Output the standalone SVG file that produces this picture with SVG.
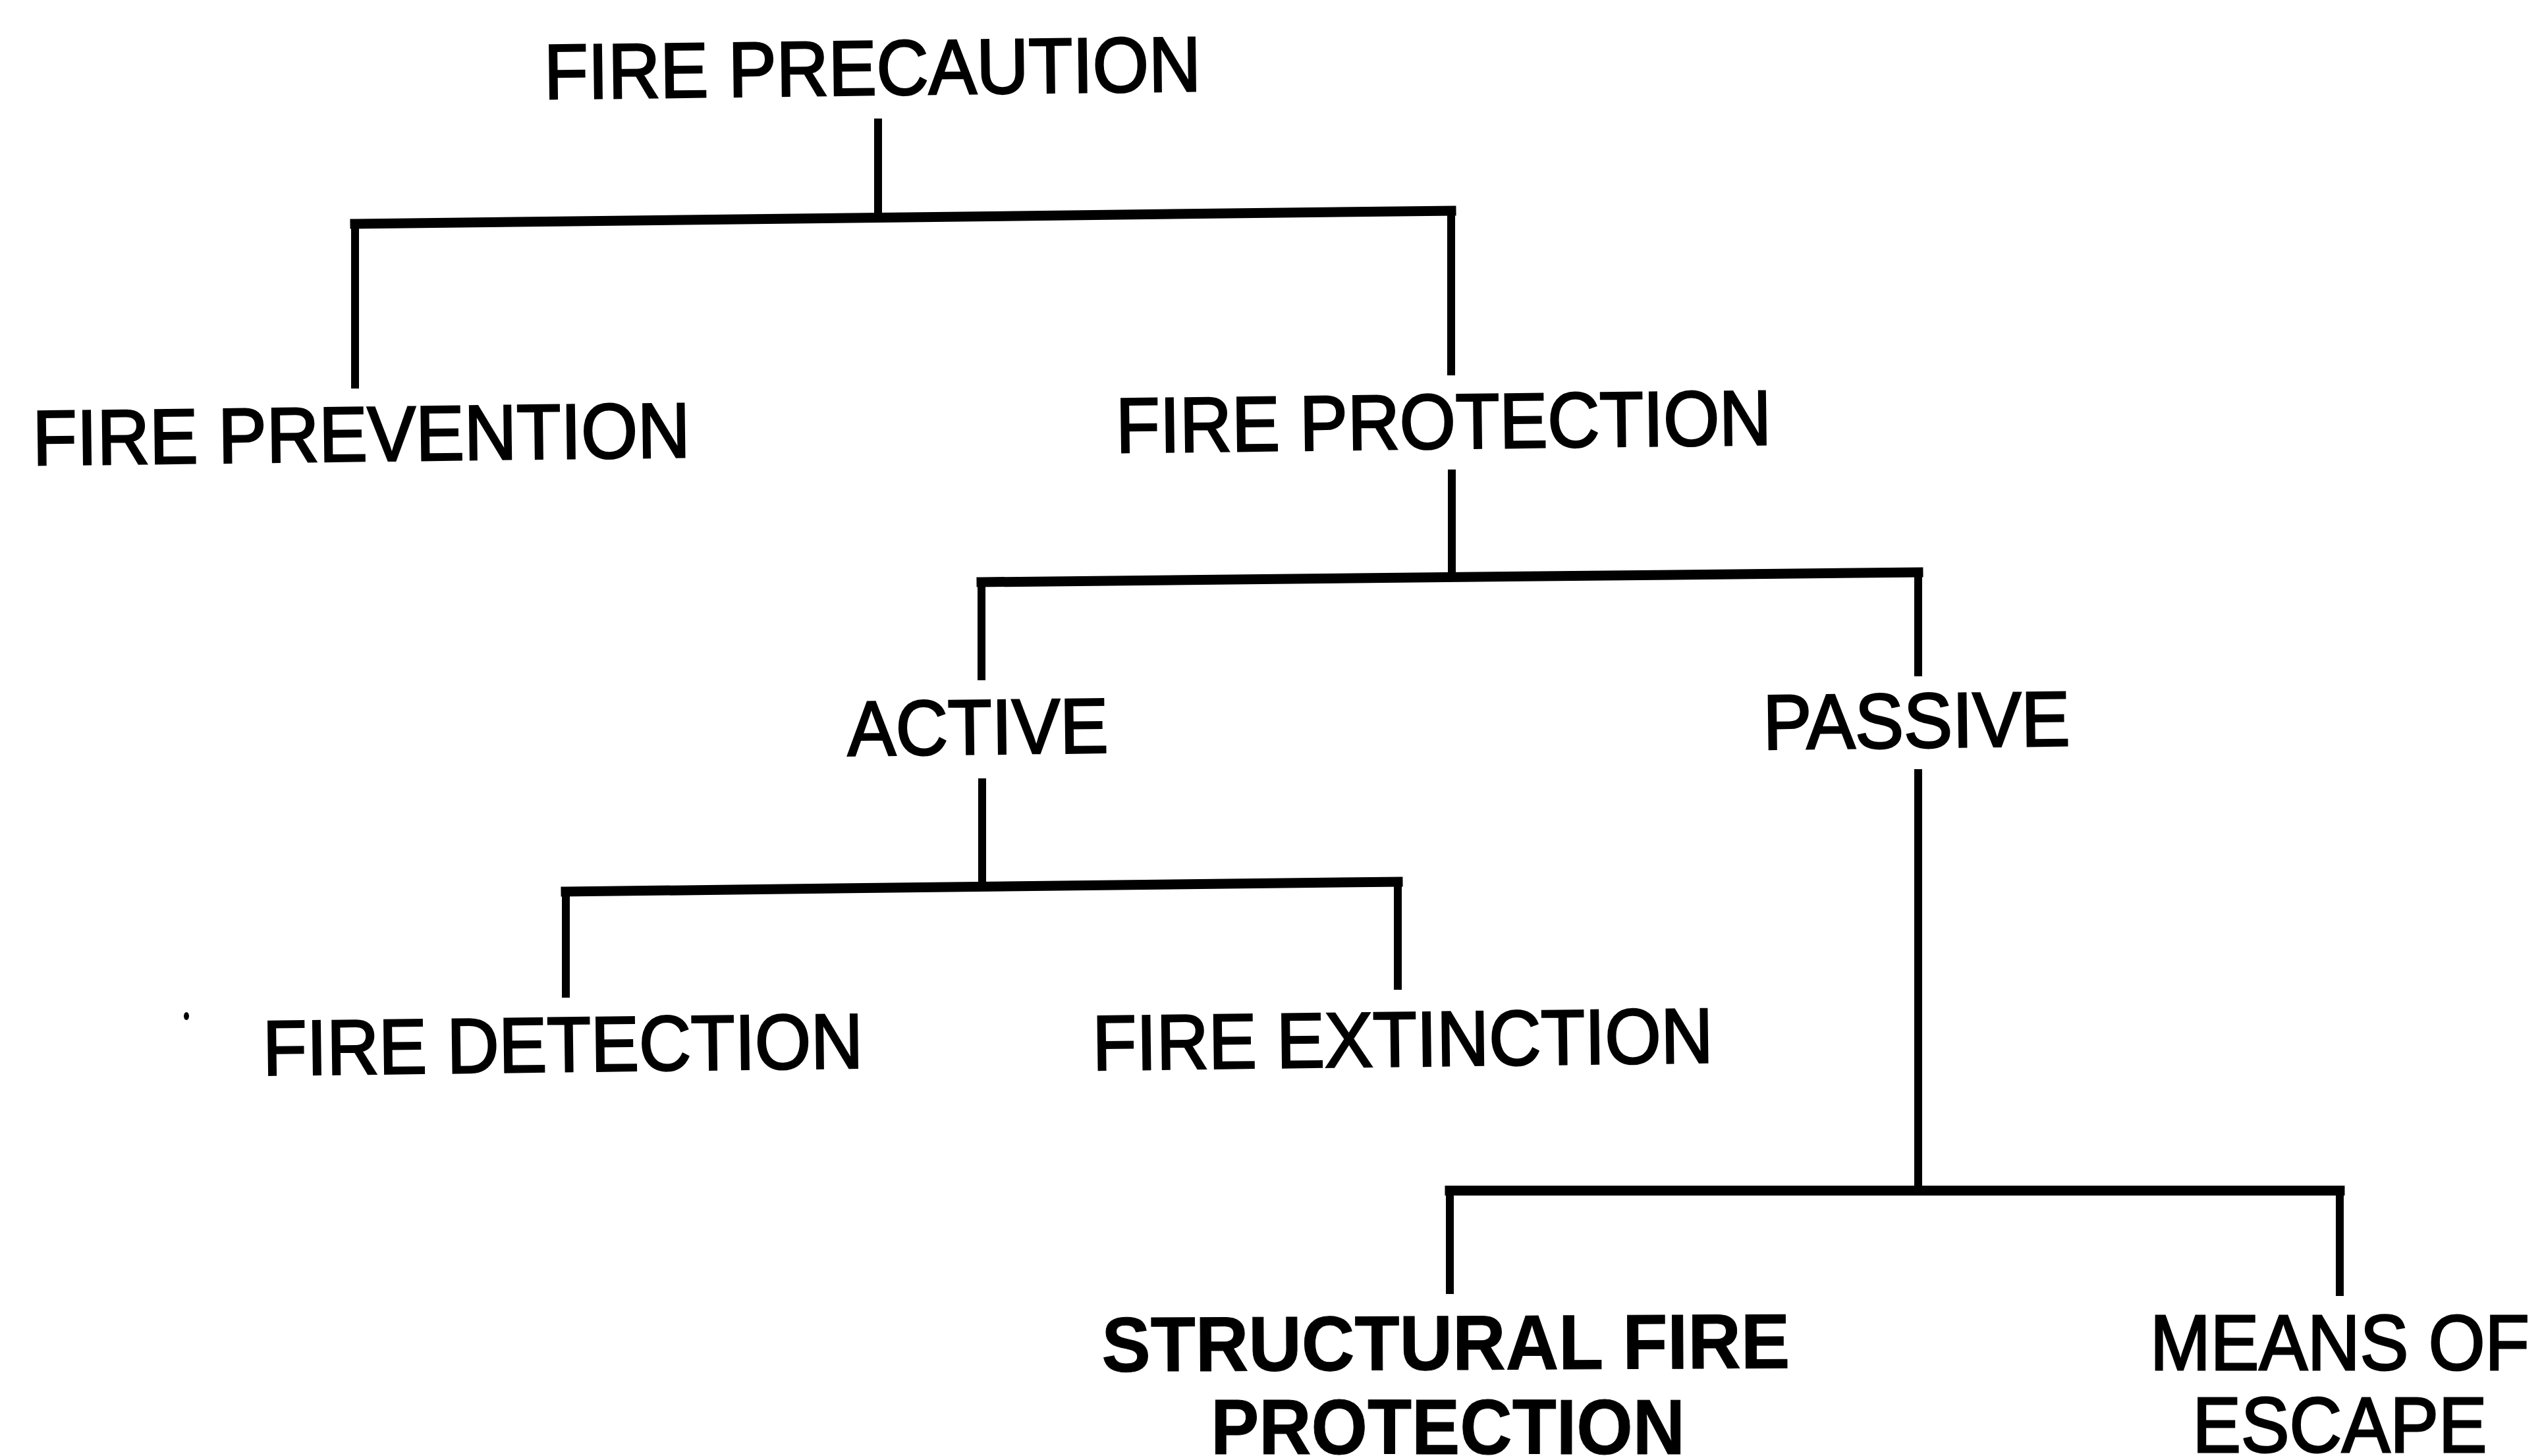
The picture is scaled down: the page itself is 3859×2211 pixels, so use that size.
<svg xmlns="http://www.w3.org/2000/svg" width="3859" height="2211" viewBox="0 0 3859 2211">
<style>
text{font-family:"Liberation Sans",Arial,sans-serif;font-size:118px;fill:#000;stroke:#000;stroke-width:3;text-anchor:middle}
.b{font-weight:bold;stroke-width:1}
.h{stroke:#000;stroke-width:15;fill:none;stroke-linecap:square}
.v{stroke:#000;stroke-width:12;fill:none;stroke-linecap:butt}
</style>
<rect width="3859" height="2211" fill="#fff"/>
<g id="connectors">
<line class="v" x1="1333" y1="180" x2="1333" y2="334"/>
<line class="h" x1="539" y1="340" x2="2203" y2="320"/>
<line class="v" x1="539" y1="340" x2="539" y2="590"/>
<line class="v" x1="2203" y1="320" x2="2203" y2="570"/>
<line class="v" x1="2204" y1="713" x2="2204" y2="878"/>
<line class="h" x1="1490" y1="884" x2="2912" y2="869"/>
<line class="v" x1="1490" y1="884" x2="1490" y2="1033"/>
<line class="v" x1="2912" y1="869" x2="2912" y2="1027"/>
<line class="v" x1="1491" y1="1182" x2="1491" y2="1347"/>
<line class="h" x1="859" y1="1354" x2="2122" y2="1339"/>
<line class="v" x1="859" y1="1354" x2="859" y2="1515"/>
<line class="v" x1="2122" y1="1339" x2="2122" y2="1503"/>
<line class="v" x1="2912" y1="1168" x2="2912" y2="1808"/>
<line class="h" x1="2201" y1="1808" x2="3552" y2="1808"/>
<line class="v" x1="2201" y1="1808" x2="2201" y2="1965"/>
<line class="v" x1="3552" y1="1808" x2="3552" y2="1968"/>
</g>
<g id="fire-precaution"><text x="1325" y="144" textLength="997" lengthAdjust="spacingAndGlyphs" transform="rotate(-0.7 1325 144)">FIRE PRECAUTION</text></g>
<g id="fire-prevention"><text x="549" y="700" textLength="998" lengthAdjust="spacingAndGlyphs" transform="rotate(-0.7 549 700)">FIRE PREVENTION</text></g>
<g id="fire-protection"><text x="2192" y="681" textLength="995" lengthAdjust="spacingAndGlyphs" transform="rotate(-0.7 2192 681)">FIRE PROTECTION</text></g>
<g id="active"><text x="1485" y="1145" textLength="396" lengthAdjust="spacingAndGlyphs" transform="rotate(-0.7 1485 1145)">ACTIVE</text></g>
<g id="passive"><text x="2910" y="1135" textLength="466" lengthAdjust="spacingAndGlyphs" transform="rotate(-0.7 2910 1135)">PASSIVE</text></g>
<g id="fire-detection"><text x="855" y="1627" textLength="911" lengthAdjust="spacingAndGlyphs" transform="rotate(-0.7 855 1627)">FIRE DETECTION</text></g>
<g id="fire-extinction"><text x="2130" y="1619" textLength="942" lengthAdjust="spacingAndGlyphs" transform="rotate(-0.7 2130 1619)">FIRE EXTINCTION</text></g>
<g id="structural-fire-protection">
<text class="b" x="2195" y="2080" textLength="1045" lengthAdjust="spacingAndGlyphs" transform="rotate(-0.3 2195 2080)">STRUCTURAL FIRE</text>
<text class="b" x="2198" y="2208" textLength="720" lengthAdjust="spacingAndGlyphs">PROTECTION</text>
</g>
<g id="means-of-escape">
<text x="3552" y="2080" textLength="576" lengthAdjust="spacingAndGlyphs">MEANS OF</text>
<text x="3552" y="2205" textLength="447" lengthAdjust="spacingAndGlyphs">ESCAPE</text>
</g>
<ellipse cx="283" cy="1543" rx="4" ry="6" fill="#000"/>
</svg>
